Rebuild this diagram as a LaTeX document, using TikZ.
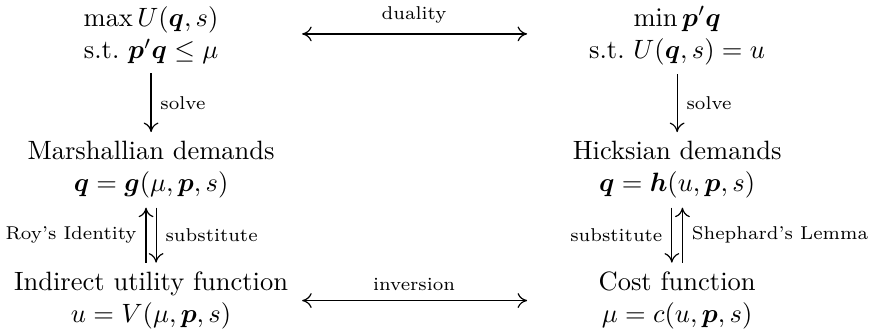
\documentclass[tikz,border=0pt]{standalone}
\usepackage{amsmath}
\usepackage{bm}
\usetikzlibrary{arrows.meta}
\tikzset{
  tip/.tip={Computer Modern Rightarrow[length=3.6pt,width=5.6pt]},
  arr/.style={-tip, line width=0.45pt},
  darr/.style={tip-tip, line width=0.45pt, shorten <=57pt, shorten >=56.6pt},
  box/.style={align=center, inner sep=3.33pt},
  lab/.style={font=\scriptsize},
}
\begin{document}
\begin{tikzpicture}[x=1pt,y=1pt]
\useasboundingbox (0,0) rectangle (329.4,126);
\node[box] (tl) at (57,112.6) {$\max U(\bm{q},s)$\\ s.t.\ $\bm{p}'\bm{q}\le\mu$};
\node[box] (tr) at (255.5,112.6) {$\min \bm{p}'\bm{q}$\\ s.t.\ $U(\bm{q},s)=u$};
\node[box] (ml) at (57,61.9) {Marshallian demands\\ $\bm{q}=\bm{g}(\mu,\bm{p},s)$};
\node[box] (mr) at (255.5,61.9) {Hicksian demands\\ $\bm{q}=\bm{h}(u,\bm{p},s)$};
\node[box] (bl) at (57,12.6) {Indirect utility function\\ $u=V(\mu,\bm{p},s)$};
\node[box] (br) at (255.5,12.6) {Cost function\\ $\mu=c(u,\bm{p},s)$};

\draw[darr] ([yshift=0.6pt]tl.center) -- ([yshift=0.6pt]tr.center) node[midway,above,lab,yshift=0.6pt] {duality};
\draw[darr] (bl.center) -- (br.center) node[midway,above,lab] {inversion};

\draw[arr] (tl) -- (ml) node[midway,right,lab] {solve};
\draw[arr] (tr) -- (mr) node[midway,right,lab] {solve};

\draw[arr] ([xshift=1.9pt]ml.south) -- ([xshift=1.9pt]bl.north) node[midway,right,lab] {substitute};
\draw[arr] ([xshift=-1.9pt]bl.north) -- ([xshift=-1.9pt]ml.south) node[midway,left,lab] {Roy's Identity};

\draw[arr] ([xshift=-2pt]mr.south) -- ([xshift=-2pt]br.north) node[midway,left,lab] {substitute};
\draw[arr] ([xshift=2pt]br.north) -- ([xshift=2pt]mr.south) node[midway,right,lab] {Shephard's Lemma};
\end{tikzpicture}
\end{document}
